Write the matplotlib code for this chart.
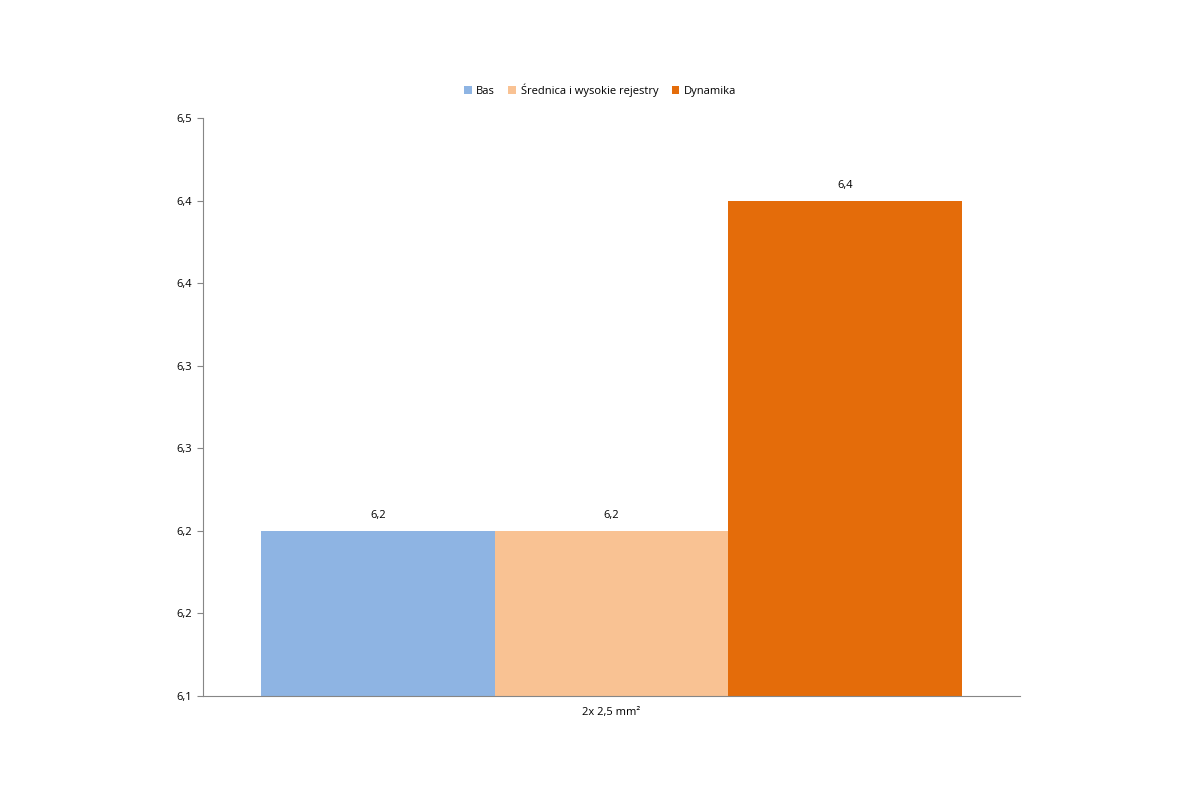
import matplotlib.pyplot as plt
from matplotlib.ticker import FuncFormatter

plt.rcParams['font.family'] = ['Open Sans', 'DejaVu Sans']

# data
series = ['Bas', 'Średnica i wysokie rejestry', 'Dynamika']
values = [6.2, 6.2, 6.4]
colors = ['#8eb4e3', '#f9c293', '#e46c0a']
category = '2x 2,5 mm²'

fig = plt.figure(figsize=(12, 8), dpi=100)
ax = fig.add_axes([0.169, 0.13, 0.681, 0.7225])

for i, (name, v, c) in enumerate(zip(series, values, colors)):
    ax.bar(i, v - 6.1, bottom=6.1, width=1.0, color=c, label=name)
    ax.text(i, v + 0.006, f'{v:.1f}'.replace('.', ','), ha='center', va='bottom', fontsize=8)

ax.set_xlim(-0.75, 2.75)
ax.set_ylim(6.1, 6.45)
ax.set_yticks([6.1 + 0.05 * k for k in range(8)])
ax.yaxis.set_major_formatter(FuncFormatter(lambda y, _: f'{y + 1e-9:.1f}'.replace('.', ',')))
ax.set_xticks([1])
ax.set_xticklabels([category])
ax.tick_params(axis='x', length=0, labelsize=8, pad=8)
ax.tick_params(axis='y', labelsize=8, length=4, color='#868686')
for s in ['top', 'right']:
    ax.spines[s].set_visible(False)
for s in ['left', 'bottom']:
    ax.spines[s].set_color('#868686')

fig.legend(loc='center', bbox_to_anchor=(0.5, 0.887), ncol=3, frameon=False,
           fontsize=8, handlelength=0.7, handleheight=0.7, handletextpad=0.4, columnspacing=1.2)

fig.savefig('out.png')
